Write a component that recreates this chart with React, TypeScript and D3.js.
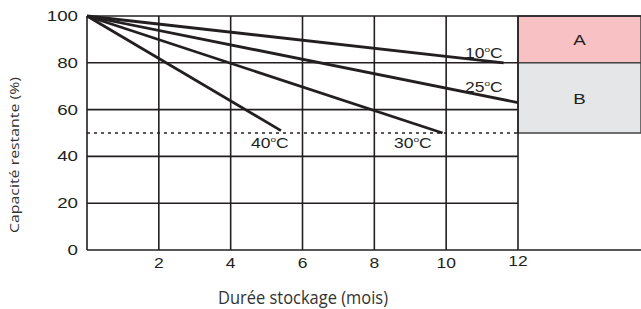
import React from 'react';
import * as d3 from 'd3';

const W = 641, H = 309;
const margin = { top: 16, left: 87 };
const xTicks = [2, 4, 6, 8, 10, 12];
const yTicks = [0, 20, 40, 60, 80, 100];
const temps = ['10', '25', '30', '40'];
// start / end points for each temperature (months, %)
const endMonths = [11.6, 12, 9.9, 5.4];
const endCapacity = [80, 63, 50, 51];
const zones = ['A', 'B'];
const zoneTop = [100, 80];
const zoneBottom = [80, 50];

const FONT = 'Liberation Sans, Arial, sans-serif';
const INK = '#231f20';
const SX = 1.25; // the source text is drawn wide

function Wide(props: { x: number; y: number; anchor?: string; size: number; children: React.ReactNode }) {
  return (
    <text transform={`translate(${props.x},${props.y}) scale(${SX},1)`} textAnchor={props.anchor || 'start'}
      fontFamily={FONT} fontSize={props.size} fill={INK}>{props.children}</text>
  );
}

export default function App() {
  const x = d3.scaleLinear().domain([0, 12]).range([margin.left, 518]);
  const y = d3.scaleLinear().domain([0, 100]).range([250, margin.top]);
  const line = d3.line<[number, number]>().x(d => x(d[0])).y(d => y(d[1]));

  const labelPos: Record<string, { x: number; y: number }> = {
    '10': { x: 465, y: 58 },
    '25': { x: 465, y: 92 },
    '30': { x: 394, y: 148 },
    '40': { x: 251, y: 148 },
  };

  return (
    <svg width={W} height={H} style={{ position: 'absolute', left: 0, top: 0 }}>
      {zones.map((z, i) => (
        <g key={z}>
          <rect x={x(12)} y={y(zoneTop[i])} width={W - x(12)} height={y(zoneBottom[i]) - y(zoneTop[i])}
            fill={i === 0 ? '#f8c1c3' : '#e5e6e8'} stroke="#444" strokeWidth={1.5} />
          <Wide x={(x(12) + W) / 2} y={(y(zoneTop[i]) + y(zoneBottom[i])) / 2 + 6} anchor="middle" size={15}>{z}</Wide>
        </g>
      ))}
      <line x1={x(0)} x2={x(12)} y1={y(50)} y2={y(50)} stroke={INK} strokeWidth={1.3} strokeDasharray="3,4" />
      {yTicks.map(t => (
        <line key={'h' + t} x1={x(0)} x2={t === 0 || t === 100 ? W : x(12)} y1={y(t)} y2={y(t)}
          stroke={INK} strokeWidth={1.6} />
      ))}
      {[0, ...xTicks].map(t => (
        <line key={'v' + t} x1={x(t)} x2={x(t)} y1={y(100)} y2={y(0)} stroke={INK} strokeWidth={1.6} />
      ))}
      {temps.map((t, i) => (
        <path key={t} d={line([[0, 100], [endMonths[i], endCapacity[i]]]) || ''}
          fill="none" stroke={INK} strokeWidth={2.8} />
      ))}
      {temps.map(t => (
        <Wide key={'l' + t} x={labelPos[t].x} y={labelPos[t].y} size={14}>
          {t}<tspan fontSize={8} dy={-6}>o</tspan><tspan dy={6}>C</tspan>
        </Wide>
      ))}
      {yTicks.map(t => (
        <Wide key={'yt' + t} x={78} y={y(t) + 5} anchor="end" size={15}>{t}</Wide>
      ))}
      {xTicks.map(t => (
        <Wide key={'xt' + t} x={x(t)} y={t === 12 ? 266 : 268} anchor="middle" size={14}>{t}</Wide>
      ))}
      <text transform={`translate(19,155) rotate(-90)`} textAnchor="middle" fontFamily="Open Sans, sans-serif"
        fontSize={12} fill="#333" textLength={156} lengthAdjust="spacingAndGlyphs">Capacité restante (%)</text>
      <text x={303} y={304} textAnchor="middle" fontFamily="Open Sans, sans-serif" fontSize={17.5} fill="#333"
        textLength={170} lengthAdjust="spacingAndGlyphs">
        Durée stockage (mois)
      </text>
    </svg>
  );
}
